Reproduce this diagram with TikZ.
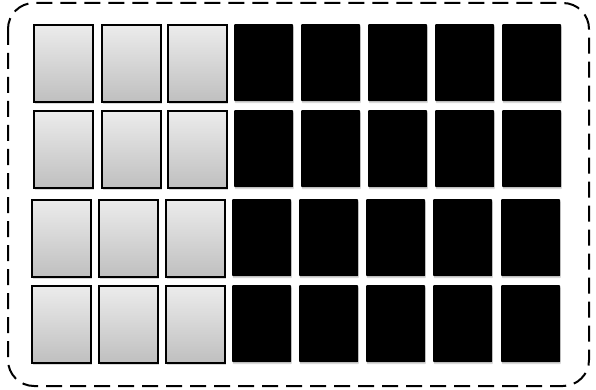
\documentclass[tikz,border=0pt]{standalone}
\usetikzlibrary{shadows}
\tikzset{
  cell/.style={minimum width=59pt, minimum height=77pt, inner sep=0pt, anchor=north west,
    drop shadow={opacity=0.3, shadow xshift=0.6pt, shadow yshift=-2pt}},
  graycell/.style={cell, draw=black, line width=1.8pt, top color=gray!15, bottom color=gray!50},
  blackcell/.style={cell, fill=black, rounded corners=0.8pt},
  frame/.style={draw=black, line width=2pt, dash pattern=on 16pt off 8pt, rounded corners=26pt}
}
\begin{document}
\begin{tikzpicture}[x=1pt,y=-1pt]
\useasboundingbox (0,0) rectangle (596,390);
\draw[frame] (8,3) rectangle (589,386);
% rows 1-2
\foreach \r/\y in {1/24,2/110}{
  \foreach \c/\x in {1/33,2/101,3/167}{
    \node[graycell] (g\r\c) at (\x,\y) {};
  }
  \foreach \c/\x in {4/234,5/301,6/368,7/435,8/502}{
    \node[blackcell] (b\r\c) at (\x,\y) {};
  }
}
% rows 3-4
\foreach \r/\y in {3/199,4/285}{
  \foreach \c/\x in {1/31,2/98,3/165}{
    \node[graycell] (g\r\c) at (\x,\y) {};
  }
  \foreach \c/\x in {4/232,5/299,6/366,7/433,8/501}{
    \node[blackcell] (b\r\c) at (\x,\y) {};
  }
}
\end{tikzpicture}
\end{document}
